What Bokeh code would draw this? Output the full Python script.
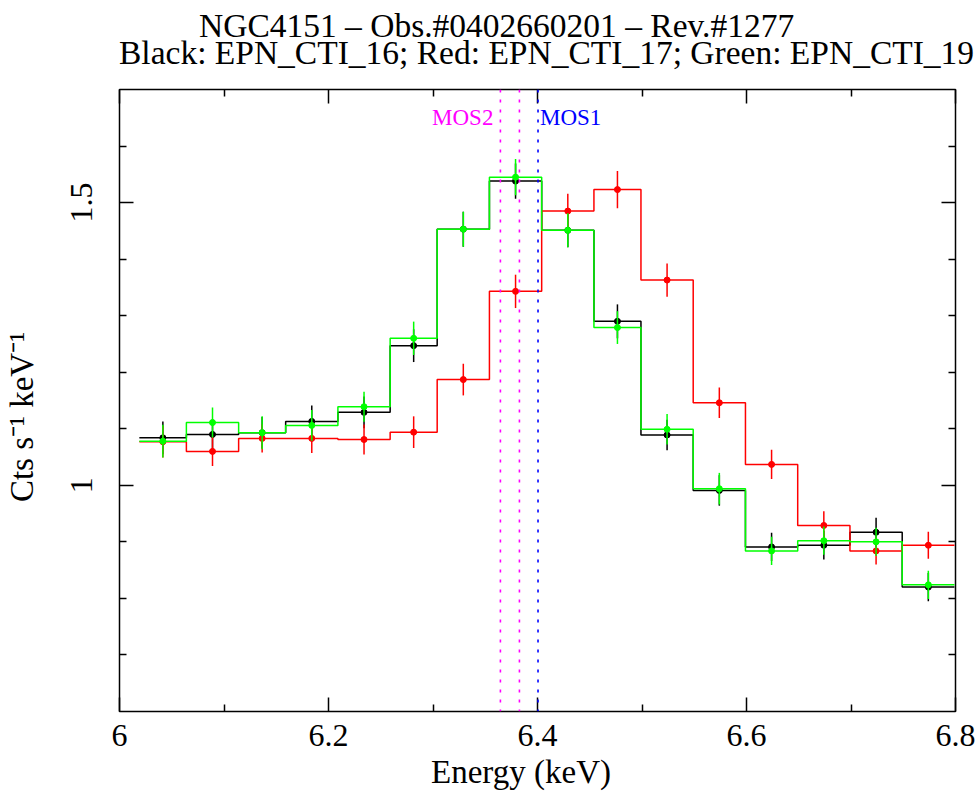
from bokeh.plotting import figure
from bokeh.layouts import column, row
from bokeh.models import Range1d, FixedTicker, LinearAxis, Span, Label
from bokeh.core.properties import value
from bokeh.embed import file_html
from bokeh.resources import INLINE

# ---- data ----
bin_edges = [6.019, 6.064, 6.114, 6.159, 6.209, 6.259, 6.304, 6.354, 6.404,
             6.454, 6.499, 6.549, 6.599, 6.649, 6.699, 6.749, 6.799]

black_rate = [1.084, 1.090, 1.093, 1.113, 1.129, 1.247, 1.453, 1.538, 1.451,
              1.290, 1.089, 0.991, 0.891, 0.894, 0.917, 0.820]
black_err = [0.029, 0.027, 0.028, 0.028, 0.028, 0.029, 0.031, 0.031, 0.030,
             0.030, 0.027, 0.027, 0.025, 0.025, 0.0255, 0.025]

red_rate = [1.077, 1.060, 1.083, 1.083, 1.081, 1.094, 1.187, 1.343, 1.485,
            1.523, 1.363, 1.146, 1.037, 0.929, 0.884, 0.894]
red_err = [0.028, 0.026, 0.025, 0.026, 0.0265, 0.028, 0.028, 0.0295, 0.0306,
           0.033, 0.0295, 0.027, 0.026, 0.025, 0.024, 0.024]

green_rate = [1.078, 1.111, 1.093, 1.106, 1.139, 1.260, 1.453, 1.545, 1.451,
              1.279, 1.099, 0.994, 0.884, 0.902, 0.900, 0.824]
green_err = [0.029, 0.0265, 0.029, 0.027, 0.0265, 0.0295, 0.031, 0.032, 0.030,
             0.029, 0.027, 0.028, 0.025, 0.025, 0.025, 0.025]

mos2_lines = [6.3645, 6.3827]
mos1_lines = [6.4005]
mos_label_y = 1.651

x_major = [6.0, 6.2, 6.4, 6.6, 6.8]
x_major_labels = ["6", "6.2", "6.4", "6.6", "6.8"]
x_minor = [6.1, 6.3, 6.5, 6.7]
y_major = [1.0, 1.5]
y_major_labels = ["1", "1.5"]
y_minor = [0.7, 0.8, 0.9, 1.1, 1.2, 1.3, 1.4, 1.6]

title_lines = ["NGC4151 \u2013 Obs.#0402660201 \u2013 Rev.#1277",
               "Black: EPN_CTI_16; Red: EPN_CTI_17; Green: EPN_CTI_19"]
x_label = "Energy (keV)" + "\u00a0" * 4
y_label = "Cts s\u207b\u00b9 keV\u207b\u00b9" + "\u00a0" * 4

FONT = "Liberation Serif"
TICK_FS = "32px"
LABEL_FS = "33px"
TITLE_FS = "33.5px"

W = 975
TITLE_H = 80

# ---------- title strip (pixel-like coordinates, y downward) ----------
pt = figure(width=W, height=TITLE_H, x_range=Range1d(0, W), y_range=Range1d(TITLE_H, 0),
            output_backend="svg", toolbar_location=None, title_location=None,
            x_axis_type=None, y_axis_type=None,
            min_border_left=0, min_border_right=0, min_border_top=0, min_border_bottom=0)
pt.outline_line_color = None
pt.background_fill_color = "white"
pt.border_fill_color = "white"
pt.text(x=[198.5, 118.5], y=[24.5, 52], text=title_lines,
        text_align="left", text_baseline="alphabetic",
        text_font=value(FONT), text_font_size=value(TITLE_FS), text_color="black")

# ---------- main plot ----------
p = figure(width=W, height=793 - TITLE_H, x_range=Range1d(6.0, 6.8), y_range=Range1d(0.6, 1.7),
           output_backend="svg", toolbar_location=None, title_location=None,
           min_border_left=118, min_border_right=20, min_border_top=89 - TITLE_H,
           min_border_bottom=82)
p.background_fill_color = "white"
p.border_fill_color = "white"
p.xgrid.visible = False
p.ygrid.visible = False
p.outline_line_color = "black"
p.outline_line_width = 1.5
p.outline_line_alpha = 1.0

xt = FixedTicker(ticks=x_major, minor_ticks=x_minor)
yt = FixedTicker(ticks=y_major, minor_ticks=y_minor)


def style_axis(ax):
    ax.major_tick_in = 14
    ax.major_tick_out = 0
    ax.minor_tick_in = 7
    ax.minor_tick_out = 0
    ax.major_tick_line_color = "black"
    ax.minor_tick_line_color = "black"
    ax.major_tick_line_width = 1.5
    ax.minor_tick_line_width = 1.5
    ax.axis_line_color = None
    ax.major_label_text_font = FONT
    ax.major_label_text_font_size = TICK_FS
    ax.major_label_text_color = "black"
    ax.axis_label_text_font = FONT
    ax.axis_label_text_font_size = LABEL_FS
    ax.axis_label_text_font_style = "normal"
    ax.axis_label_text_color = "black"


xa = p.xaxis[0]
xa.ticker = xt
style_axis(xa)
xa.major_label_overrides = dict(zip(x_major, x_major_labels))
xa.axis_label = x_label
xa.major_label_standoff = 13
xa.axis_label_standoff = 5

ya = p.yaxis[0]
ya.ticker = yt
style_axis(ya)
ya.major_label_overrides = dict(zip(y_major, y_major_labels))
ya.major_label_orientation = "vertical"
ya.axis_label = y_label
ya.major_label_standoff = 27
ya.axis_label_standoff = 29


def tick_only_axis(major, minor, side):
    # ticks on the opposite frame edges, without labels
    for locs, length in [(major, 14), (minor, 7)]:
        ax = LinearAxis(ticker=FixedTicker(ticks=[], minor_ticks=locs))
        ax.minor_tick_in = length
        ax.minor_tick_out = 0
        ax.major_tick_in = 0
        ax.major_tick_out = 0
        ax.minor_tick_line_color = "black"
        ax.minor_tick_line_width = 1.5
        ax.axis_line_color = None
        ax.major_label_standoff = 0
        p.add_layout(ax, side)


tick_only_axis(x_major, x_minor, "above")
tick_only_axis(y_major, y_minor, "right")

# MOS markers
for xv in mos2_lines:
    p.add_layout(Span(location=xv, dimension="height", line_color="#ff00ff",
                      line_width=1.6, line_dash="3 7"))
for xv in mos1_lines:
    p.add_layout(Span(location=xv, dimension="height", line_color="#0000ff",
                      line_width=1.6, line_dash="3 7"))
p.add_layout(Label(x=mos2_lines[0], y=mos_label_y, x_offset=-7, text="MOS2",
                   text_align="right", text_baseline="middle", text_font=FONT,
                   text_font_size="23px", text_color="#ff00ff"))
p.add_layout(Label(x=mos1_lines[0], y=mos_label_y, x_offset=2, text="MOS1",
                   text_align="left", text_baseline="middle", text_font=FONT,
                   text_font_size="23px", text_color="#0000ff"))

centers = [(a + b) / 2 for a, b in zip(bin_edges[:-1], bin_edges[1:])]

for rate, err, col in [(black_rate, black_err, "#000000"),
                       (red_rate, red_err, "#ff0000"),
                       (green_rate, green_err, "#00ff00")]:
    p.step(x=bin_edges, y=rate + [rate[-1]], mode="after", line_color=col, line_width=1.5)
    p.segment(x0=centers, y0=[r - e for r, e in zip(rate, err)],
              x1=centers, y1=[r + e for r, e in zip(rate, err)],
              line_color=col, line_width=1.5)
    p.scatter(x=centers, y=rate, size=6, fill_color=col, line_color=col)

# the title strip is wrapped in a row so that its frame is not aligned with the plot frame
layout = column(row(pt, spacing=0), p, spacing=0)
open("out.html", "w").write(file_html(layout, INLINE))
